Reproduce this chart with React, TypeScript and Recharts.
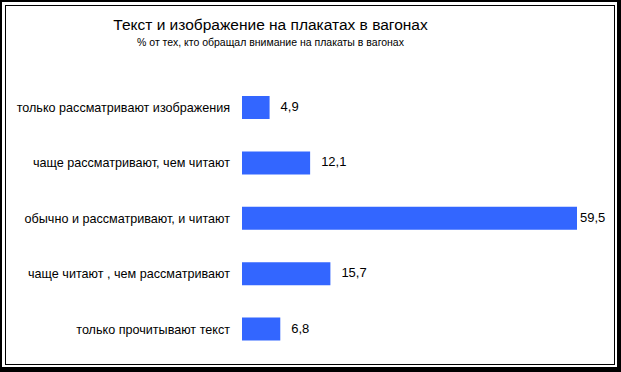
import React from 'react';
import { BarChart, Bar, XAxis, YAxis, LabelList } from 'recharts';

const categories = [
  'только рассматривают изображения',
  'чаще рассматривают, чем читают',
  'обычно и рассматривают, и читают',
  'чаще читают , чем рассматривают',
  'только прочитывают текст',
];
const values = [4.9, 12.1, 59.5, 15.7, 6.8];

const data = categories.map((name, i) => ({ name, value: values[i] }));

const FONT = '"Liberation Sans", Arial, sans-serif';

const ValueLabel = (props: any) => {
  const { x, y, width, height, value } = props;
  const end = x + width;
  const text = String(value).replace('.', ',');
  const tx = end + 11 + 26 > 606 ? end + 3 : end + 11;
  return (
    <text x={tx} y={y + height / 2} fill="#000" fontSize={13} fontFamily={FONT} dominantBaseline="middle">
      {text}
    </text>
  );
};

const CategoryTick = (props: any) => {
  const { x, y, payload } = props;
  return (
    <text x={x - 10} y={y + 1} textAnchor="end" dominantBaseline="middle" fill="#000" fontSize={12.6} fontFamily={FONT}>
      {payload.value}
    </text>
  );
};

export default function App() {
  return (
    <div style={{ position: 'absolute', left: 0, top: 0, width: 621, height: 372, background: '#000' }}>
      <div style={{ position: 'absolute', left: 2, top: 2, width: 615, height: 365, background: '#fff' }} />
      <div
        style={{
          position: 'absolute', left: 5, top: 5, width: 610, height: 360,
          border: '1px solid #000', boxSizing: 'border-box',
        }}
      />
      <div
        style={{
          position: 'absolute', left: 0, width: 541, top: 15, textAlign: 'center',
          fontFamily: FONT, fontSize: 15.5, color: '#000', lineHeight: '19px',
        }}
      >
        Текст и изображение на плакатах в вагонах
      </div>
      <div
        style={{
          position: 'absolute', left: 0, width: 541, top: 35, textAlign: 'center',
          fontFamily: FONT, fontSize: 10.5, color: '#000', lineHeight: '14px',
        }}
      >
        % от тех, кто обращал внимание на плакаты в вагонах
      </div>
      <div style={{ position: 'absolute', left: 0, top: 0 }}>
        <BarChart
          width={621}
          height={372}
          data={data}
          layout="vertical"
          margin={{ top: 80, right: 44, bottom: 15, left: 0 }}
        >
          <XAxis type="number" domain={[0, 59.5]} hide />
          <YAxis
            type="category"
            dataKey="name"
            width={242}
            axisLine={false}
            tickLine={false}
            tickSize={0}
            tick={<CategoryTick />}
            interval={0}
          />
          <Bar dataKey="value" fill="#3366FF" barSize={23} isAnimationActive={false}>
            <LabelList dataKey="value" content={ValueLabel} />
          </Bar>
        </BarChart>
      </div>
    </div>
  );
}
